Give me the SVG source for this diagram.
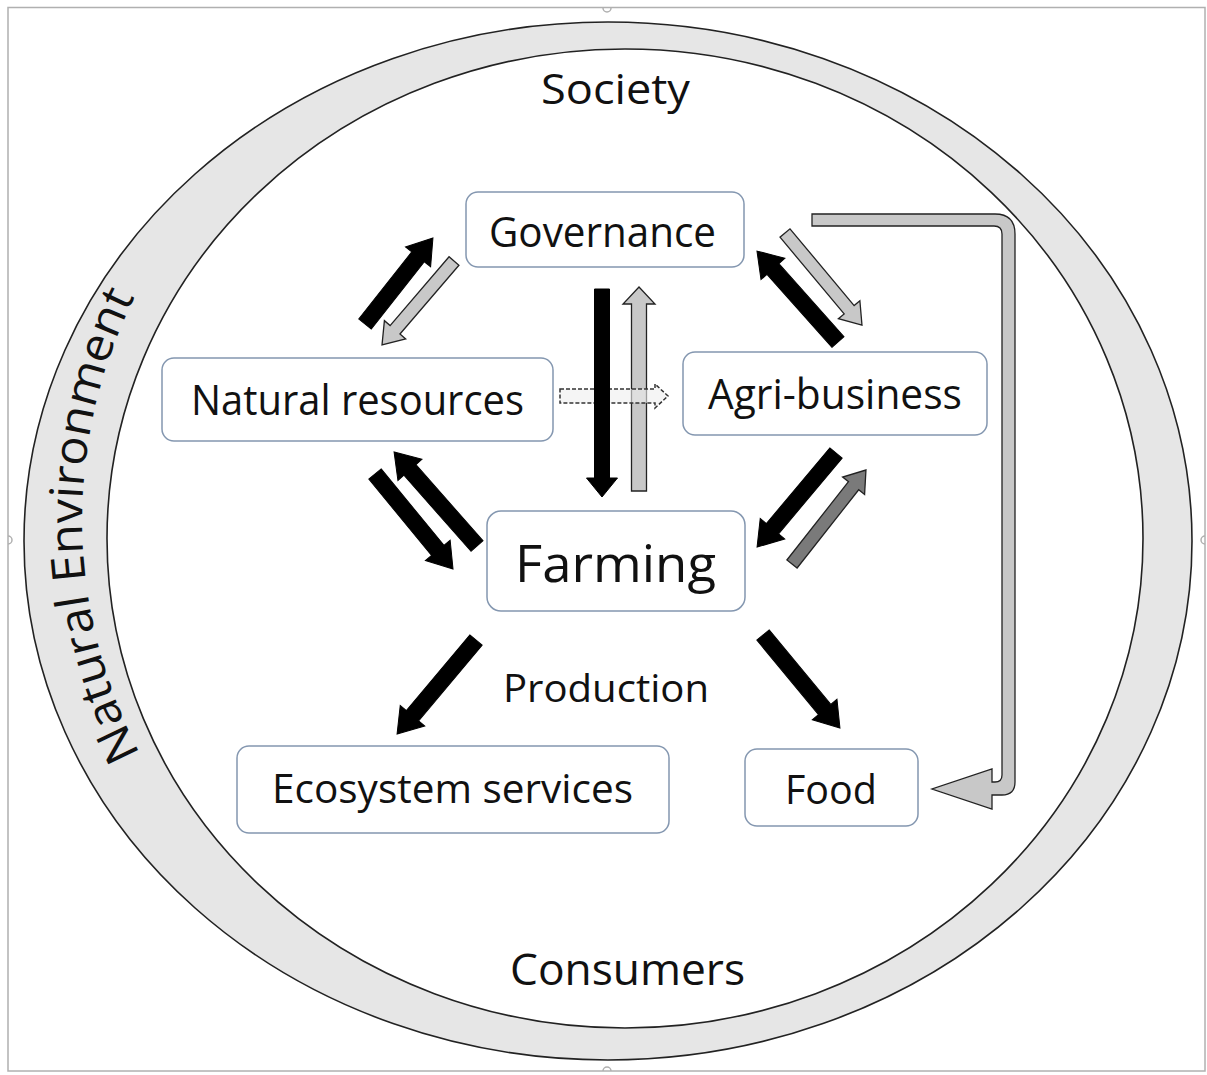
<svg xmlns="http://www.w3.org/2000/svg" width="1207" height="1075" viewBox="0 0 1207 1075">
  <style>
    .t { font-family: "Open Sans", "Liberation Sans", sans-serif; fill: #111; text-anchor: middle; }
    .node { fill: #fff; stroke: #8497b0; stroke-width: 1.5; }
    .blk { fill: #000; stroke: #000; stroke-width: 1; }
    .gry { fill: #c8c8c8; stroke: #222; stroke-width: 1.3; }
    .dgry { fill: #7a7a7a; stroke: #222; stroke-width: 1.3; }
    .dash { fill: #eeeeee; fill-opacity: 0.6; stroke: #333; stroke-width: 1.5; stroke-dasharray: 4 2; }
    .frame { fill: none; stroke: #b0b0b0; stroke-width: 1.5; }
  </style>
  <defs>
    <path id="envPath" d="M161,790 A618,553 0 0 1 154.6,260"/>
  </defs>
  <rect width="1207" height="1075" fill="#fff"/>
  <g id="frame">
    <rect class="frame" x="8" y="7.5" width="1197" height="1063.5"/>
    <path class="frame" d="M603,8 A4,4 0 0 0 611,8"/>
    <path class="frame" d="M603,1071 A4,4 0 0 1 611,1071"/>
    <path class="frame" d="M8,536 A4,4 0 0 1 8,544"/>
    <path class="frame" d="M1205,536 A4,4 0 0 0 1205,544"/>
  </g>
  <g id="ring">
    <ellipse cx="608" cy="541" rx="584" ry="519" fill="#e6e6e6" stroke="#222" stroke-width="1.6"/>
    <ellipse cx="625" cy="538.5" rx="518" ry="489.5" fill="#fff" stroke="#222" stroke-width="1.6"/>
    <text class="t" font-size="46"><textPath href="#envPath" startOffset="50%" textLength="475" lengthAdjust="spacingAndGlyphs">Natural Environment</textPath></text>
    <text class="t" x="615.5" y="104" font-size="42" textLength="149" lengthAdjust="spacingAndGlyphs">Society</text>
    <text class="t" x="627.5" y="985" font-size="44" textLength="235" lengthAdjust="spacingAndGlyphs">Consumers</text>
    <text class="t" x="606" y="702" font-size="38" textLength="206" lengthAdjust="spacingAndGlyphs">Production</text>
  </g>
  <g id="connectors">
    <path class="blk" transform="translate(365,324) rotate(-51.7)" d="M0,-8 L85.6,-8 L85.6,-16 L109.6,0 L85.6,16 L85.6,8 L0,8 Z"/>
    <path class="gry" transform="translate(454,261) rotate(130.6)" d="M0,-6.5 L90.6,-6.5 L90.6,-14 L110.6,0 L90.6,14 L90.6,6.5 L0,6.5 Z"/>
    <path class="gry" transform="translate(639,491) rotate(-90)" d="M0,-7.5 L187,-7.5 L187,-16 L204,0 L187,16 L187,7.5 L0,7.5 Z"/>
    <path class="dash" transform="translate(560,396)" d="M0,-7 L95,-7 L95,-12 L108,0 L95,12 L95,7 L0,7 Z"/>
    <path class="blk" transform="translate(602,289) rotate(90)" d="M0,-7.5 L189,-7.5 L189,-15.5 L208,0 L189,15.5 L189,7.5 L0,7.5 Z"/>
    <path class="blk" transform="translate(838,342) rotate(-131.7)" d="M0,-8 L97.8,-8 L97.8,-16 L121.8,0 L97.8,16 L97.8,8 L0,8 Z"/>
    <path class="gry" transform="translate(785,233) rotate(50.1)" d="M0,-6.5 L100,-6.5 L100,-14 L120,0 L100,14 L100,6.5 L0,6.5 Z"/>
    <path class="blk" transform="translate(836,453) rotate(130)" d="M0,-8 L98.8,-8 L98.8,-16 L122.8,0 L98.8,16 L98.8,8 L0,8 Z"/>
    <path class="dgry" transform="translate(792,564) rotate(-51.8)" d="M0,-6.5 L99.6,-6.5 L99.6,-14 L119.6,0 L99.6,14 L99.6,6.5 L0,6.5 Z"/>
    <path class="blk" transform="translate(477,546) rotate(-131.4)" d="M0,-8 L101.4,-8 L101.4,-16 L125.4,0 L101.4,16 L101.4,8 L0,8 Z"/>
    <path class="blk" transform="translate(375,474) rotate(50.6)" d="M0,-8 L98.9,-8 L98.9,-16 L122.9,0 L98.9,16 L98.9,8 L0,8 Z"/>
    <path class="blk" transform="translate(476,640) rotate(130)" d="M0,-8 L98.8,-8 L98.8,-16 L122.8,0 L98.8,16 L98.8,8 L0,8 Z"/>
    <path class="blk" transform="translate(763,635) rotate(50.4)" d="M0,-8 L96.7,-8 L96.7,-16 L120.7,0 L96.7,16 L96.7,8 L0,8 Z"/>
    <path class="gry" d="M812,214 L995,214 Q1015,214 1015,234 L1015,782 Q1015,795 1002,795 L992,795 L992,809 L932,789 L992,769 L992,782 L995,782 Q1002,782 1002,775 L1002,234 Q1002,226 994,226 L812,226 Z"/>
  </g>
  <g id="governance">
    <rect class="node" x="466" y="192" width="278" height="75" rx="12"/>
    <text class="t" x="602.5" y="247" font-size="42" textLength="227" lengthAdjust="spacingAndGlyphs">Governance</text>
  </g>
  <g id="natural-resources">
    <rect class="node" x="162" y="358" width="391" height="83" rx="12"/>
    <text class="t" x="357.5" y="415" font-size="42" textLength="333" lengthAdjust="spacingAndGlyphs">Natural resources</text>
  </g>
  <g id="agri-business">
    <rect class="node" x="683" y="352" width="304" height="83" rx="12"/>
    <text class="t" x="835" y="409" font-size="42" textLength="254" lengthAdjust="spacingAndGlyphs">Agri-business</text>
  </g>
  <g id="farming">
    <rect class="node" x="487" y="511" width="258" height="100" rx="14"/>
    <text class="t" x="615.5" y="582" font-size="52" textLength="201" lengthAdjust="spacingAndGlyphs">Farming</text>
  </g>
  <g id="ecosystem-services">
    <rect class="node" x="237" y="746" width="432" height="87" rx="12"/>
    <text class="t" x="452.5" y="803" font-size="40" textLength="361" lengthAdjust="spacingAndGlyphs">Ecosystem services</text>
  </g>
  <g id="food">
    <rect class="node" x="745" y="749" width="173" height="77" rx="12"/>
    <text class="t" x="831" y="804" font-size="40" textLength="92" lengthAdjust="spacingAndGlyphs">Food</text>
  </g>
</svg>
